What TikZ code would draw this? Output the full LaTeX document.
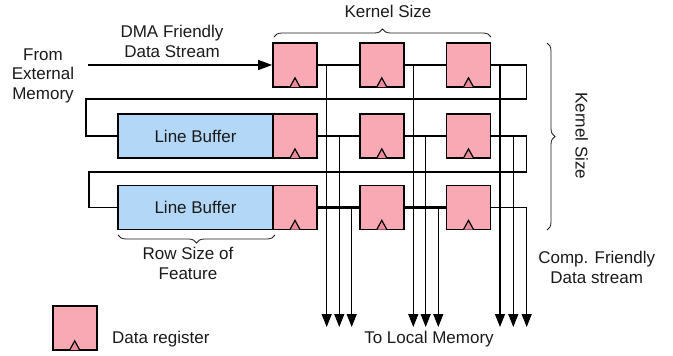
\documentclass[tikz,border=0pt]{standalone}
\usepackage{fontspec}
\setmainfont{Liberation Sans}
\usetikzlibrary{arrows.meta,decorations.pathreplacing,calc}
\definecolor{regpink}{HTML}{F8A9B4}
\definecolor{clkpink}{HTML}{EC8B9C}
\definecolor{lbblue}{HTML}{B3D7F6}
\definecolor{txt}{HTML}{1A1A1A}
\begin{document}
\begin{tikzpicture}[x=1pt,y=-1pt,
  font=\fontsize{17}{19.5}\selectfont,
  every node/.style={text=txt},
  reg/.style={draw, fill=regpink, line width=1.7pt, minimum width=44pt, minimum height=44pt, inner sep=0pt},
  lbuf/.style={draw, fill=lbblue, line width=1.7pt, minimum width=155pt, minimum height=44pt, inner sep=0pt},
  clk/.style={draw, fill=clkpink, line width=1.2pt, line join=miter},
  wire/.style={draw, line width=1.1pt},
  bus/.style={draw, line width=2.7pt},
  tap/.style={draw, line width=1.2pt, -{Triangle[width=10pt,length=13pt]}},
  inarrow/.style={draw, line width=1.2pt, -{Triangle[width=10pt,length=14pt]}},
  brc/.style={draw=txt, line width=0.8pt, decorate, decoration={brace, amplitude=8pt}},
  lbl/.style={align=center, inner sep=0pt}
]
\useasboundingbox (0,0) rectangle (673,356);

% line buffers
\node[lbuf] (lb2) at (195.5,136) {Line Buffer};
\node[lbuf] (lb3) at (195.5,207.5) {Line Buffer};

% registers
\node[reg] (r11) at (295,65) {};
\node[reg] (r12) at (381.8,65) {};
\node[reg] (r13) at (468.5,65) {};
\node[reg] (r21) at (295,136) {};
\node[reg] (r22) at (381.8,136) {};
\node[reg] (r23) at (468.5,136) {};
\node[reg] (r31) at (295,207.5) {};
\node[reg] (r32) at (381.8,207.5) {};
\node[reg] (r33) at (468.5,207.5) {};
\node[reg] (leg) at (74.7,328) {};

\foreach \r in {r11,r12,r13,r21,r22,r23,r31,r32,r33,leg}{
  \draw[clk] ([xshift=-5pt,yshift=0.85pt]\r.south) -- ([yshift=10pt]\r.south) -- ([xshift=5pt,yshift=0.85pt]\r.south);
}

% labels
\node[lbl] (from) at (43,75.5) {From\\External\\Memory};
\node[lbl] (dma) at (172,41.5) {DMA Friendly\\Data Stream};
\node[lbl] (ksTop) at (388,11) {Kernel Size};
\node[lbl, rotate=-90] (ksRight) at (581.7,136) {Kernel Size};
\node[lbl] (rowsz) at (188,263.5) {Row Size of\\Feature};
\node[lbl] (comp) at (596.7,267.5) {Comp. Friendly\\Data stream};
\node[lbl] (tolocal) at (429,339) {To Local Memory};
\node[lbl, anchor=west] (legtxt) at (112,339) {Data register};

% input arrow
\coordinate (inStart) at (88,65);
\draw[inarrow] (inStart) -- (r11.west);

% row 1 wires
\coordinate (c1) at (526.7,65);
\coordinate (c2) at (526.7,99);
\coordinate (c3) at (86,99);
\coordinate (c4) at (86,136);
\draw[wire] (r11.east) -- (r12.west);
\draw[wire] (r12.east) -- (r13.west);
\draw[wire] (r13.east) -- (c1) -- (c2) -- (c3) -- (c4) -- (lb2.west);

% row 2 wires
\coordinate (d1) at (526.7,136);
\coordinate (d2) at (526.7,172);
\coordinate (d3) at (89,172);
\coordinate (d4) at (89,207.5);
\draw[bus] (r21.east) -- (r22.west);
\draw[bus] (r22.east) -- (r23.west);
\draw[wire] (r23.east) -- (d1) -- (d2) -- (d3) -- (d4) -- (lb3.west);

% row 3 wires
\draw[bus] (r31.east) -- (r32.west);
\draw[bus] (r32.east) -- (r33.west);
\coordinate (e1) at (526.7,207.5);
\draw[wire] (r33.east) -- (e1);

% taps to local memory
\foreach \x/\y [count=\i] in {326.7/65, 339.3/136, 351.7/207.5,
                   413.3/65, 425.7/136, 438.3/207.5,
                   500/65, 513.3/136, 526.7/207.5}{
  \coordinate (tapS\i) at (\x,\y);
  \coordinate (tapE\i) at (\x,327);
  \draw[tap] (tapS\i) -- (tapE\i);
}

% braces
\coordinate (bt1) at (274,37);
\coordinate (bt2) at (491,37);
\draw[brc] (bt1) -- (bt2);
\coordinate (br1) at (547,43);
\coordinate (br2) at (547,230);
\draw[brc] (br1) -- (br2);
\coordinate (bb1) at (275,235);
\coordinate (bb2) at (118,235);
\draw[brc] (bb1) -- (bb2);
\end{tikzpicture}
\end{document}
